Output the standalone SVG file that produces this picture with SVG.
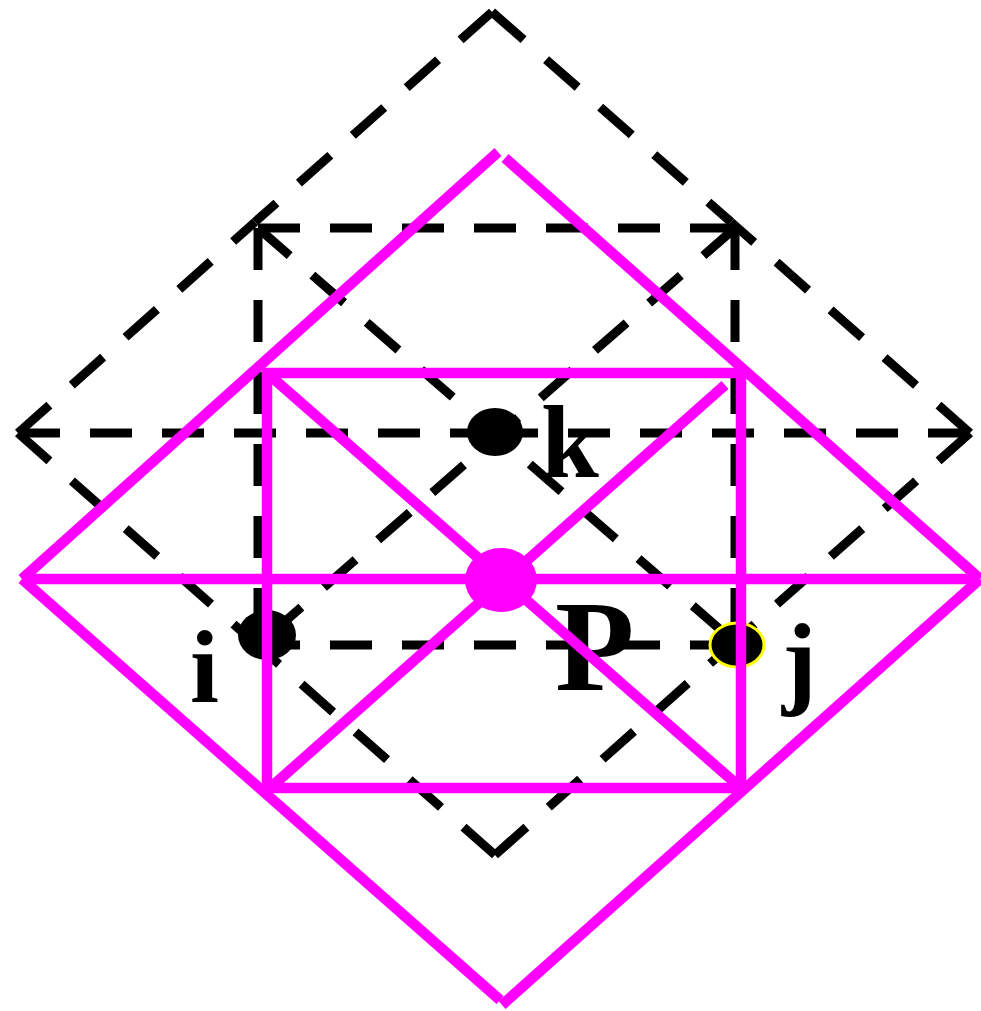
<svg xmlns="http://www.w3.org/2000/svg" width="981" height="1011" viewBox="0 0 981 1011">
<style>
.d{stroke:#000;stroke-width:9;stroke-dasharray:42 30;fill:none}
.m{stroke:#f0f;stroke-width:10.5;fill:none}
.t{font-family:"Liberation Serif",serif;font-weight:bold;fill:#000}
</style>
<rect width="981" height="1011" fill="#fff"/>
<g id="connectors">
<g id="dashed">
<line class="d" x1="492" y1="12" x2="255" y2="222"/>
<line class="d" x1="18" y1="433" x2="255" y2="222"/>
<line class="d" x1="492" y1="12" x2="731" y2="222"/>
<line class="d" x1="970" y1="433" x2="731" y2="222"/>
<line class="d" x1="18" y1="433" x2="256" y2="644"/>
<line class="d" x1="495" y1="855" x2="256" y2="644"/>
<line class="d" x1="970" y1="433" x2="732" y2="644"/>
<line class="d" x1="495" y1="855" x2="732" y2="644"/>
<line class="d" x1="18" y1="433" x2="494" y2="433"/>
<line class="d" x1="970" y1="433" x2="494" y2="433"/>
<line class="d" x1="258" y1="228" x2="735" y2="228"/>
<line class="d" x1="258" y1="228" x2="258" y2="645"/>
<line class="d" x1="735" y1="228" x2="735" y2="645"/>
<line class="d" x1="258" y1="645" x2="735" y2="645"/>
<line class="d" x1="258" y1="228" x2="738" y2="645"/>
<line class="d" x1="735" y1="228" x2="258" y2="645"/>
</g>
</g>
<g id="node-k"><ellipse cx="495" cy="432" rx="28" ry="24" fill="#000"/><text class="t" x="541" y="477" font-size="104">k</text></g>
<g id="node-i"><ellipse cx="267" cy="635" rx="29" ry="25" fill="#000"/><text class="t" x="190" y="702" font-size="104">i</text></g>
<g id="node-j"><ellipse cx="737" cy="645" rx="27" ry="22" fill="#000" stroke="#ff0" stroke-width="3"/><text class="t" x="782" y="695" font-size="104">j</text></g>
<g id="node-P-label"><text class="t" x="555" y="690" font-size="130">P</text></g>
<g id="magenta">
<line class="m" x1="22" y1="579" x2="498" y2="152"/>
<line class="m" x1="505" y1="158" x2="980" y2="579"/>
<line class="m" x1="22" y1="579" x2="500" y2="1000"/>
<line class="m" x1="980" y1="579" x2="502" y2="1005"/>
<line class="m" x1="22" y1="579" x2="980" y2="579"/>
<rect class="m" x="267" y="373" width="474" height="415"/>
<line class="m" x1="267" y1="373" x2="741" y2="788"/>
<line class="m" x1="270" y1="788" x2="725" y2="385"/>
</g>
<g id="node-P"><ellipse cx="501" cy="580" rx="36" ry="32" fill="#f0f"/></g>
</svg>
